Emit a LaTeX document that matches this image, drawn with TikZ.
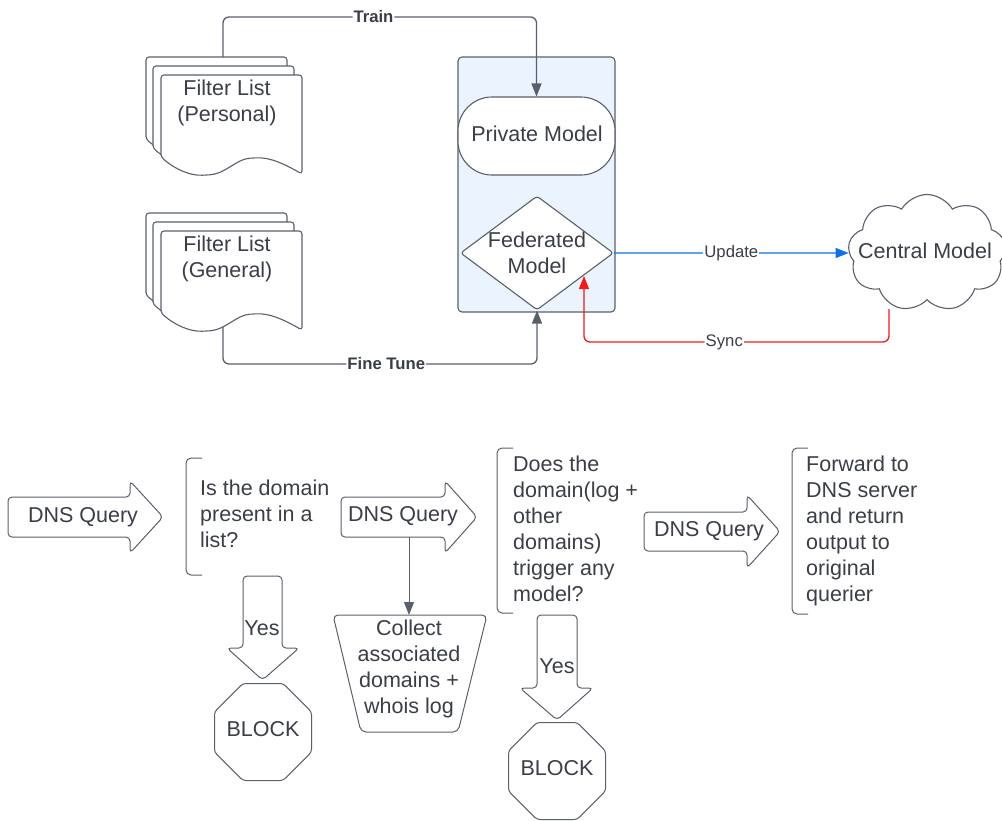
\documentclass[tikz,border=0pt]{standalone}
\usepackage{fontspec}
\setmainfont{Liberation Sans}
\usetikzlibrary{arrows.meta,shapes.geometric,shapes.symbols}
\definecolor{txt}{HTML}{3A3F47}
\definecolor{ln}{HTML}{5A606B}
\definecolor{pale}{HTML}{EBF3FE}
\definecolor{upd}{HTML}{1071E5}
\definecolor{syn}{HTML}{EE1C1C}
\newcommand{\mainsz}{\fontsize{21.5}{26}\selectfont}
\newcommand{\lblsz}{\fontsize{16.7}{20}\selectfont}
\newcommand{\docpage}[2]{%
  \draw[shp, rounded corners=3] (#1,#2+82) -- (#1,#2) -- (#1+141,#2) -- (#1+141,#2+99)
    .. controls (#1+125,#2+90) and (#1+110,#2+82) .. (#1+92,#2+83)
    .. controls (#1+75,#2+84) and (#1+65,#2+99) .. (#1+45,#2+100)
    .. controls (#1+30,#2+101) and (#1+15,#2+95) .. cycle;}
\tikzset{
  every node/.style={text=txt, font=\mainsz},
  shp/.style={draw=ln, line width=1.1pt, fill=white},
  conn/.style={draw=ln, line width=1.3pt, -{Triangle[length=13pt,width=10pt]}},
  updconn/.style={draw=upd, line width=1.3pt, -{Triangle[length=13pt,width=10pt]}},
  syncconn/.style={draw=syn, line width=1.3pt, -{Triangle[length=13pt,width=10pt]}},
  lbl/.style={fill=white, inner sep=1pt, font=\lblsz},
  bl/.style={fill=white, inner sep=1pt, font=\lblsz\bfseries},
  octa/.style={shp, line width=1pt, regular polygon, regular polygon sides=8, minimum size=105, inner sep=0, rounded corners=3},
}
\begin{document}
\begin{tikzpicture}[x=1pt,y=-1pt]
\useasboundingbox (0,0) rectangle (1002,820);

% Filter lists
\docpage{146}{57}\docpage{153}{66}\docpage{161}{75}
\node[align=center] (personal) at (227,103) {Filter List\\(Personal)};
\coordinate (pTop) at (223,57);

\docpage{146}{213}\docpage{153}{222}\docpage{161}{231}
\node[align=center] (general) at (227,259) {Filter List\\(General)};
\coordinate (gBot) at (223,327);

% container
\draw[draw=ln, fill=pale, line width=1.1pt, rounded corners=4] (458,57) rectangle (615,312);
\node[shp, rounded corners=34, minimum width=157, minimum height=78, inner sep=0] (private) at (536.5,136) {};
\node (privtxt) at (537,134) {Private Model};
\node[shp, diamond, rounded corners=3, minimum width=153, minimum height=114, inner sep=0] (fed) at (537,253) {};
\node[align=center] (fedtxt) at (fed) {Federated\\Model};

% central cloud
\node[shp, cloud, cloud puffs=9, cloud puff arc=120, aspect=1.37, minimum width=158, minimum height=117, inner sep=0] (central) at (927,253) {};
\node (centraltxt) at (925,251) {Central Model};

% connectors top
\draw[conn, rounded corners=6] (pTop) -- ++(0,-40) -| node[bl,pos=0.24]{Train} (private.north);
\draw[conn, rounded corners=6] (gBot) -- ++(0,37) -| node[bl,pos=0.26]{Fine Tune} (fed.south);
\draw[updconn] (fed.east) -- node[lbl]{Update} (central.west);
\coordinate (syncS) at (889,309);
\coordinate (syncE) at (584,276);
\draw[syncconn, rounded corners=6] (syncS) -- ++(0,33) -| node[lbl,pos=0.27]{Sync} (syncE);

% bottom flow
\draw[shp, line width=1pt, rounded corners=4] (8,497) -- (130,497) -- (130,481) -- (163,517) -- (130,553) -- (130,537) -- (8,537) -- cycle;
\node (q1) at (83,517) {DNS Query};

\draw[shp, line width=1pt, rounded corners=5, fill=none] (202,458) -- (186,458) -- (186,575) -- (202,575);
\node[anchor=north west, inner sep=0, align=left] (ask1) at (200,480) {Is the domain\\present in a\\list?};

\draw[shp, line width=1pt, rounded corners=4] (341,497) -- (445,497) -- (445,481) -- (477,517) -- (445,553) -- (445,537) -- (341,537) -- cycle;
\node (q2) at (403,516) {DNS Query};
\coordinate (q2b) at (409,537);

\draw[shp, line width=1pt, rounded corners=5] (333,615) -- (487,615) -- (458,732) -- (361,732) -- cycle;
\coordinate (colTop) at (409,615);
\node[align=center] (collect) at (409,669) {Collect\\associated\\domains +\\whois log};
\draw[conn, line width=1pt] (q2b) -- (colTop);

\draw[shp, line width=1pt, rounded corners=4] (243,576) -- (282,576) -- (282,648) -- (299,648) -- (262.5,680) -- (227,648) -- (243,648) -- cycle;
\node (yes1) at (262,628) {Yes};
\node[octa] (block1) at (263,732) {};
\node (block1txt) at (263,729) {BLOCK};

\draw[shp, line width=1pt, rounded corners=5, fill=none] (513,448) -- (497,448) -- (497,613) -- (513,613);
\node[anchor=north west, inner sep=0, align=left] (ask2) at (513,456) {Does the\\domain(log +\\other\\domains)\\trigger any\\model?};

\draw[shp, line width=1pt, rounded corners=4] (644,512) -- (747,512) -- (747,495) -- (780,531.5) -- (747,568) -- (747,551) -- (644,551) -- cycle;
\node (q3) at (709,531) {DNS Query};

\draw[shp, line width=1pt, rounded corners=5, fill=none] (808,448) -- (792,448) -- (792,614) -- (808,614);
\node[anchor=north west, inner sep=0, align=left] (fwd) at (806,456) {Forward to\\DNS server\\and return\\output to\\original\\querier};

\draw[shp, line width=1pt, rounded corners=4] (537,615) -- (577,615) -- (577,688) -- (593,688) -- (557,720) -- (520,688) -- (537,688) -- cycle;
\node (yes2) at (557,666) {Yes};
\node[octa] (block2) at (557,771) {};
\node (block2txt) at (557,768) {BLOCK};
\end{tikzpicture}
\end{document}
